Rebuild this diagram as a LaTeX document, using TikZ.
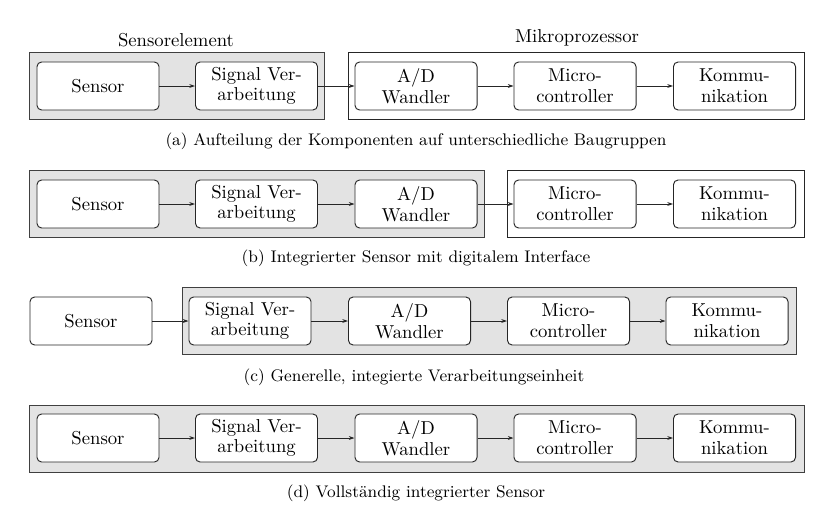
\documentclass[tikz,border=0pt]{standalone}
\usetikzlibrary{arrows.meta}
\begin{document}
\begin{tikzpicture}[x=0.535pt,y=-0.535pt,
  blk/.style={draw=black!85,line width=0.5pt,rounded corners=2.5pt,fill=white,minimum width=65.3pt,minimum height=25.7pt,align=center,inner sep=0pt,font=\linespread{0.92}\selectfont},
  grp/.style={draw=black!75,line width=0.5pt,fill=gray!22},
  wgrp/.style={draw=black!85,line width=0.5pt,fill=white},
  con/.style={-{Stealth[length=3pt,width=2pt]},line width=0.45pt,draw=black!85},
  lbl/.style={inner sep=0pt},
  captxt/.style={inner sep=0pt,font=\small}]
\useasboundingbox (0,0) rectangle (822,506);
% row a
\draw[grp] (29,52) rectangle (324,119);
\draw[wgrp] (348,52) rectangle (804,119);
\node[lbl] (la1) at (176,40) {Sensorelement};
\node[lbl] (la2) at (577,38) {Mikroprozessor};
\node[blk] (a1) at (98,86) {Sensor};
\node[blk] (a2) at (256.5,86) {Signal Ver-\\arbeitung};
\node[blk] (a3) at (416,86) {A/D\\Wandler};
\node[blk] (a4) at (575,86) {Micro-\\controller};
\node[blk] (a5) at (734.5,86) {Kommu-\\nikation};
\draw[con] (a1) -- (a2);
\draw[con] (a2) -- (a3);
\draw[con] (a3) -- (a4);
\draw[con] (a4) -- (a5);
\node[captxt] (ca) at (416,141) {(a) Aufteilung der Komponenten auf unterschiedliche Baugruppen};
% row b
\draw[grp] (29,170) rectangle (484,237);
\draw[wgrp] (507,170) rectangle (804,237);
\node[blk] (b1) at (98,204) {Sensor};
\node[blk] (b2) at (256.5,204) {Signal Ver-\\arbeitung};
\node[blk] (b3) at (416,204) {A/D\\Wandler};
\node[blk] (b4) at (575,204) {Micro-\\controller};
\node[blk] (b5) at (734.5,204) {Kommu-\\nikation};
\draw[con] (b1) -- (b2);
\draw[con] (b2) -- (b3);
\draw[con] (b3) -- (b4);
\draw[con] (b4) -- (b5);
\node[captxt] (cb) at (416,258) {(b) Integrierter Sensor mit digitalem Interface};
% row c
\draw[grp] (182,287) rectangle (796,354);
\node[blk] (c1) at (91,321) {Sensor};
\node[blk] (c2) at (250,321) {Signal Ver-\\arbeitung};
\node[blk] (c3) at (409.5,321) {A/D\\Wandler};
\node[blk] (c4) at (568.5,321) {Micro-\\controller};
\node[blk] (c5) at (727,321) {Kommu-\\nikation};
\draw[con] (c1) -- (c2);
\draw[con] (c2) -- (c3);
\draw[con] (c3) -- (c4);
\draw[con] (c4) -- (c5);
\node[captxt] (cc) at (414,377) {(c) Generelle, integierte Verarbeitungseinheit};
% row d
\draw[grp] (29,405) rectangle (804,472);
\node[blk] (d1) at (98,438) {Sensor};
\node[blk] (d2) at (256.5,438) {Signal Ver-\\arbeitung};
\node[blk] (d3) at (416,438) {A/D\\Wandler};
\node[blk] (d4) at (575,438) {Micro-\\controller};
\node[blk] (d5) at (734.5,438) {Kommu-\\nikation};
\draw[con] (d1) -- (d2);
\draw[con] (d2) -- (d3);
\draw[con] (d3) -- (d4);
\draw[con] (d4) -- (d5);
\node[captxt] (cd) at (416,493) {(d) Vollständig integrierter Sensor};
\end{tikzpicture}
\end{document}
